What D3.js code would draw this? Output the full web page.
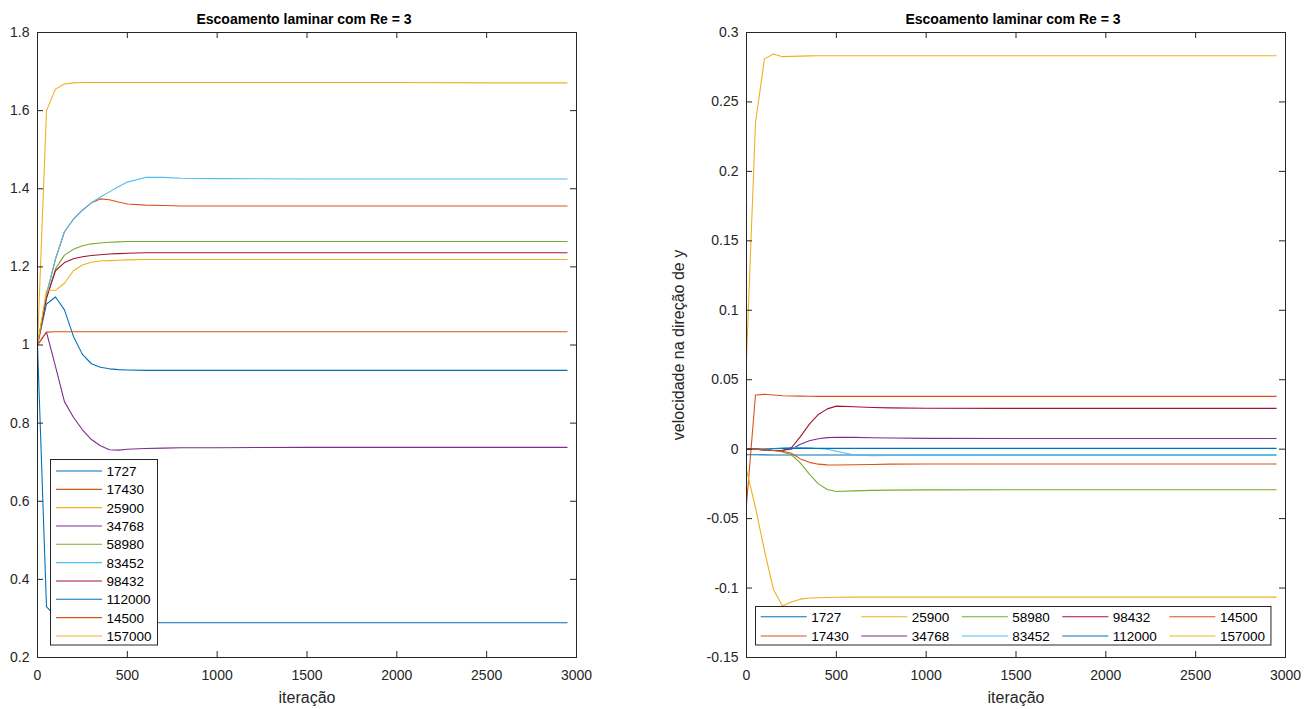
<!DOCTYPE html>
<html><head><meta charset="utf-8">
<script src="https://cdn.jsdelivr.net/npm/d3@7/dist/d3.min.js"></script>
<style>
body{margin:0;background:#fff;}
svg{display:block;}
text{font-family:"Liberation Sans",Arial,Helvetica,sans-serif;}
</style>
</head><body>
<svg id="c" width="1315" height="709"></svg>
<script>
// ---------------- DATA ----------------
const iterations = [0,50,100,150,200,250,300,350,400,450,500,600,700,800,1000,1500,2000,2500,2950];
const seriesNames = ["1727","17430","25900","34768","58980","83452","98432","112000","14500","157000"];
const seriesColors = ["#0072BD","#D95319","#EDB120","#7E2F8E","#77AC30","#4DBEEE","#A2142F","#0072BD","#D95319","#EDB120"];

// left panel (magnitude)
const L1727   = [1.0,1.105,1.123,1.09,1.022,0.976,0.952,0.943,0.939,0.937,0.936,0.935,0.935,0.935,0.935,0.935,0.935,0.935,0.935];
const L17430  = [1.0,1.13,1.22,1.29,1.322,1.345,1.364,1.374,1.372,1.366,1.361,1.358,1.357,1.356,1.356,1.356,1.356,1.356,1.356];
const L25900  = [1.0,1.60,1.655,1.668,1.671,1.672,1.672,1.672,1.672,1.672,1.672,1.672,1.672,1.672,1.672,1.672,1.672,1.671,1.671];
const L34768  = [1.0,1.033,0.945,0.855,0.815,0.783,0.758,0.742,0.732,0.731,0.733,0.735,0.736,0.737,0.737,0.738,0.738,0.738,0.738];
const L58980  = [1.0,1.12,1.195,1.23,1.245,1.254,1.259,1.261,1.263,1.264,1.265,1.265,1.265,1.265,1.265,1.265,1.265,1.265,1.265];
const L83452  = [1.0,1.13,1.22,1.29,1.322,1.345,1.364,1.379,1.392,1.405,1.417,1.429,1.429,1.427,1.426,1.425,1.425,1.425,1.425];
const L98432  = [1.0,1.12,1.19,1.211,1.221,1.226,1.229,1.231,1.233,1.234,1.235,1.236,1.236,1.236,1.236,1.236,1.236,1.236,1.236];
const L112000 = [1.0,0.33,0.305,0.295,0.291,0.290,0.290,0.290,0.290,0.289,0.289,0.289,0.289,0.289,0.289,0.289,0.289,0.289,0.289];
const L14500  = [1.0,1.033,1.034,1.034,1.034,1.034,1.034,1.034,1.034,1.034,1.034,1.034,1.034,1.034,1.034,1.034,1.034,1.034,1.034];
const L157000 = [1.0,1.14,1.14,1.158,1.19,1.205,1.212,1.215,1.216,1.217,1.218,1.219,1.219,1.219,1.219,1.219,1.219,1.219,1.219];

// right panel (velocity in y)
const R1727   = [-0.004,-0.004,-0.0041,-0.0042,-0.0042,-0.0042,-0.0042,-0.0042,-0.0042,-0.0042,-0.0042,-0.0042,-0.0042,-0.0042,-0.0042,-0.0042,-0.0042,-0.0042,-0.0042];
const R17430  = [-0.04,0.039,0.0395,0.039,0.0385,0.0383,0.0382,0.0381,0.038,0.038,0.038,0.038,0.038,0.038,0.038,0.038,0.038,0.038,0.038];
const R25900  = [0.065,0.235,0.281,0.2845,0.2826,0.2828,0.283,0.2832,0.2833,0.2833,0.2833,0.2833,0.2833,0.2833,0.2833,0.2833,0.2833,0.2833,0.2833];
const R34768  = [0,0,-0.0005,-0.001,-0.0008,0.0,0.0035,0.006,0.0075,0.0083,0.0086,0.0085,0.0082,0.008,0.0078,0.0077,0.0077,0.0077,0.0077];
const R58980  = [0,0,-0.0005,-0.001,-0.002,-0.004,-0.010,-0.018,-0.025,-0.029,-0.0305,-0.030,-0.0297,-0.0295,-0.0293,-0.0292,-0.0292,-0.0292,-0.0292];
const R83452  = [0,0,0,0.0005,0.001,0.0012,0.0012,0.001,0.0005,0.0,-0.0015,-0.0042,-0.0047,-0.0046,-0.0045,-0.0044,-0.0044,-0.0044,-0.0044];
const R98432  = [0,0,-0.0005,-0.001,-0.001,0.001,0.009,0.018,0.025,0.029,0.031,0.0305,0.030,0.0297,0.0295,0.0294,0.0294,0.0294,0.0294];
const R112000 = [0,0,0,0.0003,0.0005,0.0006,0.0006,0.0006,0.0006,0.0006,0.0006,0.0006,0.0006,0.0006,0.0006,0.0006,0.0006,0.0006,0.0006];
const R14500  = [0,0,-0.0005,-0.001,-0.0015,-0.003,-0.007,-0.0095,-0.0108,-0.0113,-0.0114,-0.0112,-0.011,-0.0108,-0.0107,-0.0107,-0.0107,-0.0107,-0.0107];
const R157000 = [-0.015,-0.042,-0.073,-0.101,-0.113,-0.110,-0.108,-0.1072,-0.107,-0.1068,-0.1066,-0.1065,-0.1065,-0.1065,-0.1065,-0.1065,-0.1065,-0.1065,-0.1065];

const xTicks = [0,500,1000,1500,2000,2500,3000];
const xTickLabels = ["0","500","1000","1500","2000","2500","3000"];
const leftYTicks = [0.2,0.4,0.6,0.8,1,1.2,1.4,1.6,1.8];
const leftYTickLabels = ["0.2","0.4","0.6","0.8","1","1.2","1.4","1.6","1.8"];
const rightYTicks = [-0.15,-0.1,-0.05,0,0.05,0.1,0.15,0.2,0.25,0.3];
const rightYTickLabels = ["-0.15","-0.1","-0.05","0","0.05","0.1","0.15","0.2","0.25","0.3"];
const titleText = "Escoamento laminar com Re = 3";
const xLabelText = "iteração";
const rightYLabelText = "velocidade na direção de y";

// ---------------- DRAW ----------------
const svg = d3.select("#c");
const AX = "#262626";
const TOP = 32, BOT = 657;

function panel(opts){
  const g = svg.append("g");
  const x = d3.scaleLinear().domain([0,3000]).range([opts.x0, opts.x1]);
  const y = d3.scaleLinear().domain(opts.yDomain).range([BOT+0.5, TOP+0.5]);
  const xs = d3.scaleLinear().domain([0,3000]).range([opts.x0+0.5, opts.x1+0.5]);
  const cid = "clip"+opts.id;
  svg.append("clipPath").attr("id",cid).append("rect")
    .attr("x",opts.x0+0.5).attr("y",TOP+0.5).attr("width",opts.x1-opts.x0).attr("height",BOT-TOP);
  const line = d3.line().x(d=>xs(d[0])).y(d=>y(d[1]));
  const lg = g.append("g").attr("clip-path",`url(#${cid})`);
  opts.series.forEach((vals,i)=>{
    lg.append("path")
      .attr("d", line(iterations.map((t,j)=>[t, vals[j]])))
      .attr("fill","none").attr("stroke",seriesColors[i]).attr("stroke-width",1.1)
      .attr("stroke-linejoin","round");
  });
  const yAx = d3.scaleLinear().domain(opts.yDomain).range([BOT, TOP]);
  const styleAxis = sel => {
    sel.select(".domain").remove();
    sel.selectAll(".tick line").attr("stroke",AX);
    sel.selectAll("text").attr("fill",AX).style("font-size","14px").attr("font-family",null);
  };
  g.append("g").attr("transform",`translate(0,${BOT})`)
    .call(d3.axisBottom(x).tickValues(xTicks).tickFormat((d,i)=>xTickLabels[i]).tickSize(-6).tickPadding(13))
    .call(styleAxis);
  g.append("g").attr("transform",`translate(0,${TOP})`)
    .call(d3.axisTop(x).tickValues(xTicks).tickFormat("").tickSize(-6))
    .call(styleAxis);
  g.append("g").attr("transform",`translate(${opts.x0},0)`)
    .call(d3.axisLeft(yAx).tickValues(opts.yTicks).tickFormat((d,i)=>opts.yLabels[i]).tickSize(-6).tickPadding(7.5))
    .call(styleAxis);
  g.append("g").attr("transform",`translate(${opts.x1},0)`)
    .call(d3.axisRight(yAx).tickValues(opts.yTicks).tickFormat("").tickSize(-6))
    .call(styleAxis);
  g.append("rect").attr("x",opts.x0+0.5).attr("y",TOP+0.5)
    .attr("width",opts.x1-opts.x0).attr("height",BOT-TOP)
    .attr("fill","none").attr("stroke",AX).attr("stroke-width",1);
  const cx = (opts.x0+opts.x1)/2+0.5;
  g.append("text").attr("x",cx-3).attr("y",23.5).attr("text-anchor","middle")
    .style("font-size","14px").style("font-weight","bold").attr("fill","#000").text(titleText);
  g.append("text").attr("x",cx).attr("y",703).attr("text-anchor","middle")
    .style("font-size","16px").attr("fill",AX).text(xLabelText);
  return g;
}

const leftSeries = [L1727,L17430,L25900,L34768,L58980,L83452,L98432,L112000,L14500,L157000];
const rightSeries = [R1727,R17430,R25900,R34768,R58980,R83452,R98432,R112000,R14500,R157000];

panel({id:"L", x0:37, x1:576, yDomain:[0.2,1.8], yTicks:leftYTicks, yLabels:leftYTickLabels, series:leftSeries});
const gR = panel({id:"R", x0:746, x1:1285, yDomain:[-0.15,0.3], yTicks:rightYTicks, yLabels:rightYTickLabels, series:rightSeries});
gR.append("text").attr("transform","translate(684,345) rotate(-90)").attr("text-anchor","middle")
  .style("font-size","16px").attr("fill",AX).text(rightYLabelText);

// legends
const LEGFS = "13.5px";
(function(){
  const g = svg.append("g");
  g.append("rect").attr("x",50.5).attr("y",459.5).attr("width",107).attr("height",185.5)
    .attr("fill","#fff").attr("stroke",AX).attr("stroke-width",1);
  seriesNames.forEach((n,i)=>{
    const yy = 471 + i*18.33;
    g.append("line").attr("x1",56).attr("x2",102).attr("y1",yy).attr("y2",yy)
      .attr("stroke",seriesColors[i]).attr("stroke-width",1.1);
    g.append("text").attr("x",106.5).attr("y",yy+5).style("font-size",LEGFS).attr("fill","#000").text(n);
  });
})();
(function(){
  const g = svg.append("g");
  const box = g.append("rect").attr("fill","#fff").attr("stroke",AX).attr("stroke-width",1);
  const ncol = 5, rowsY = [616.7, 636];
  let colX = 760.7;
  let lastEnd = 0;
  for(let c=0;c<ncol;c++){
    let maxW = 0;
    for(let r=0;r<2;r++){
      const i = c*2 + r;
      const yy = rowsY[r];
      g.append("line").attr("x1",colX).attr("x2",colX+46).attr("y1",yy).attr("y2",yy)
        .attr("stroke",seriesColors[i]).attr("stroke-width",1.1);
      const t = g.append("text").attr("x",colX+50.5).attr("y",yy+5).style("font-size",LEGFS).attr("fill","#000").text(seriesNames[i]);
      maxW = Math.max(maxW, t.node().getComputedTextLength());
    }
    lastEnd = colX + 50.5 + maxW;
    colX = colX + 50.5 + maxW + 12.5;
  }
  box.attr("x",755.5).attr("y",606.5).attr("width",lastEnd+6-755.5).attr("height",38.5);
})();
</script>
</body></html>
